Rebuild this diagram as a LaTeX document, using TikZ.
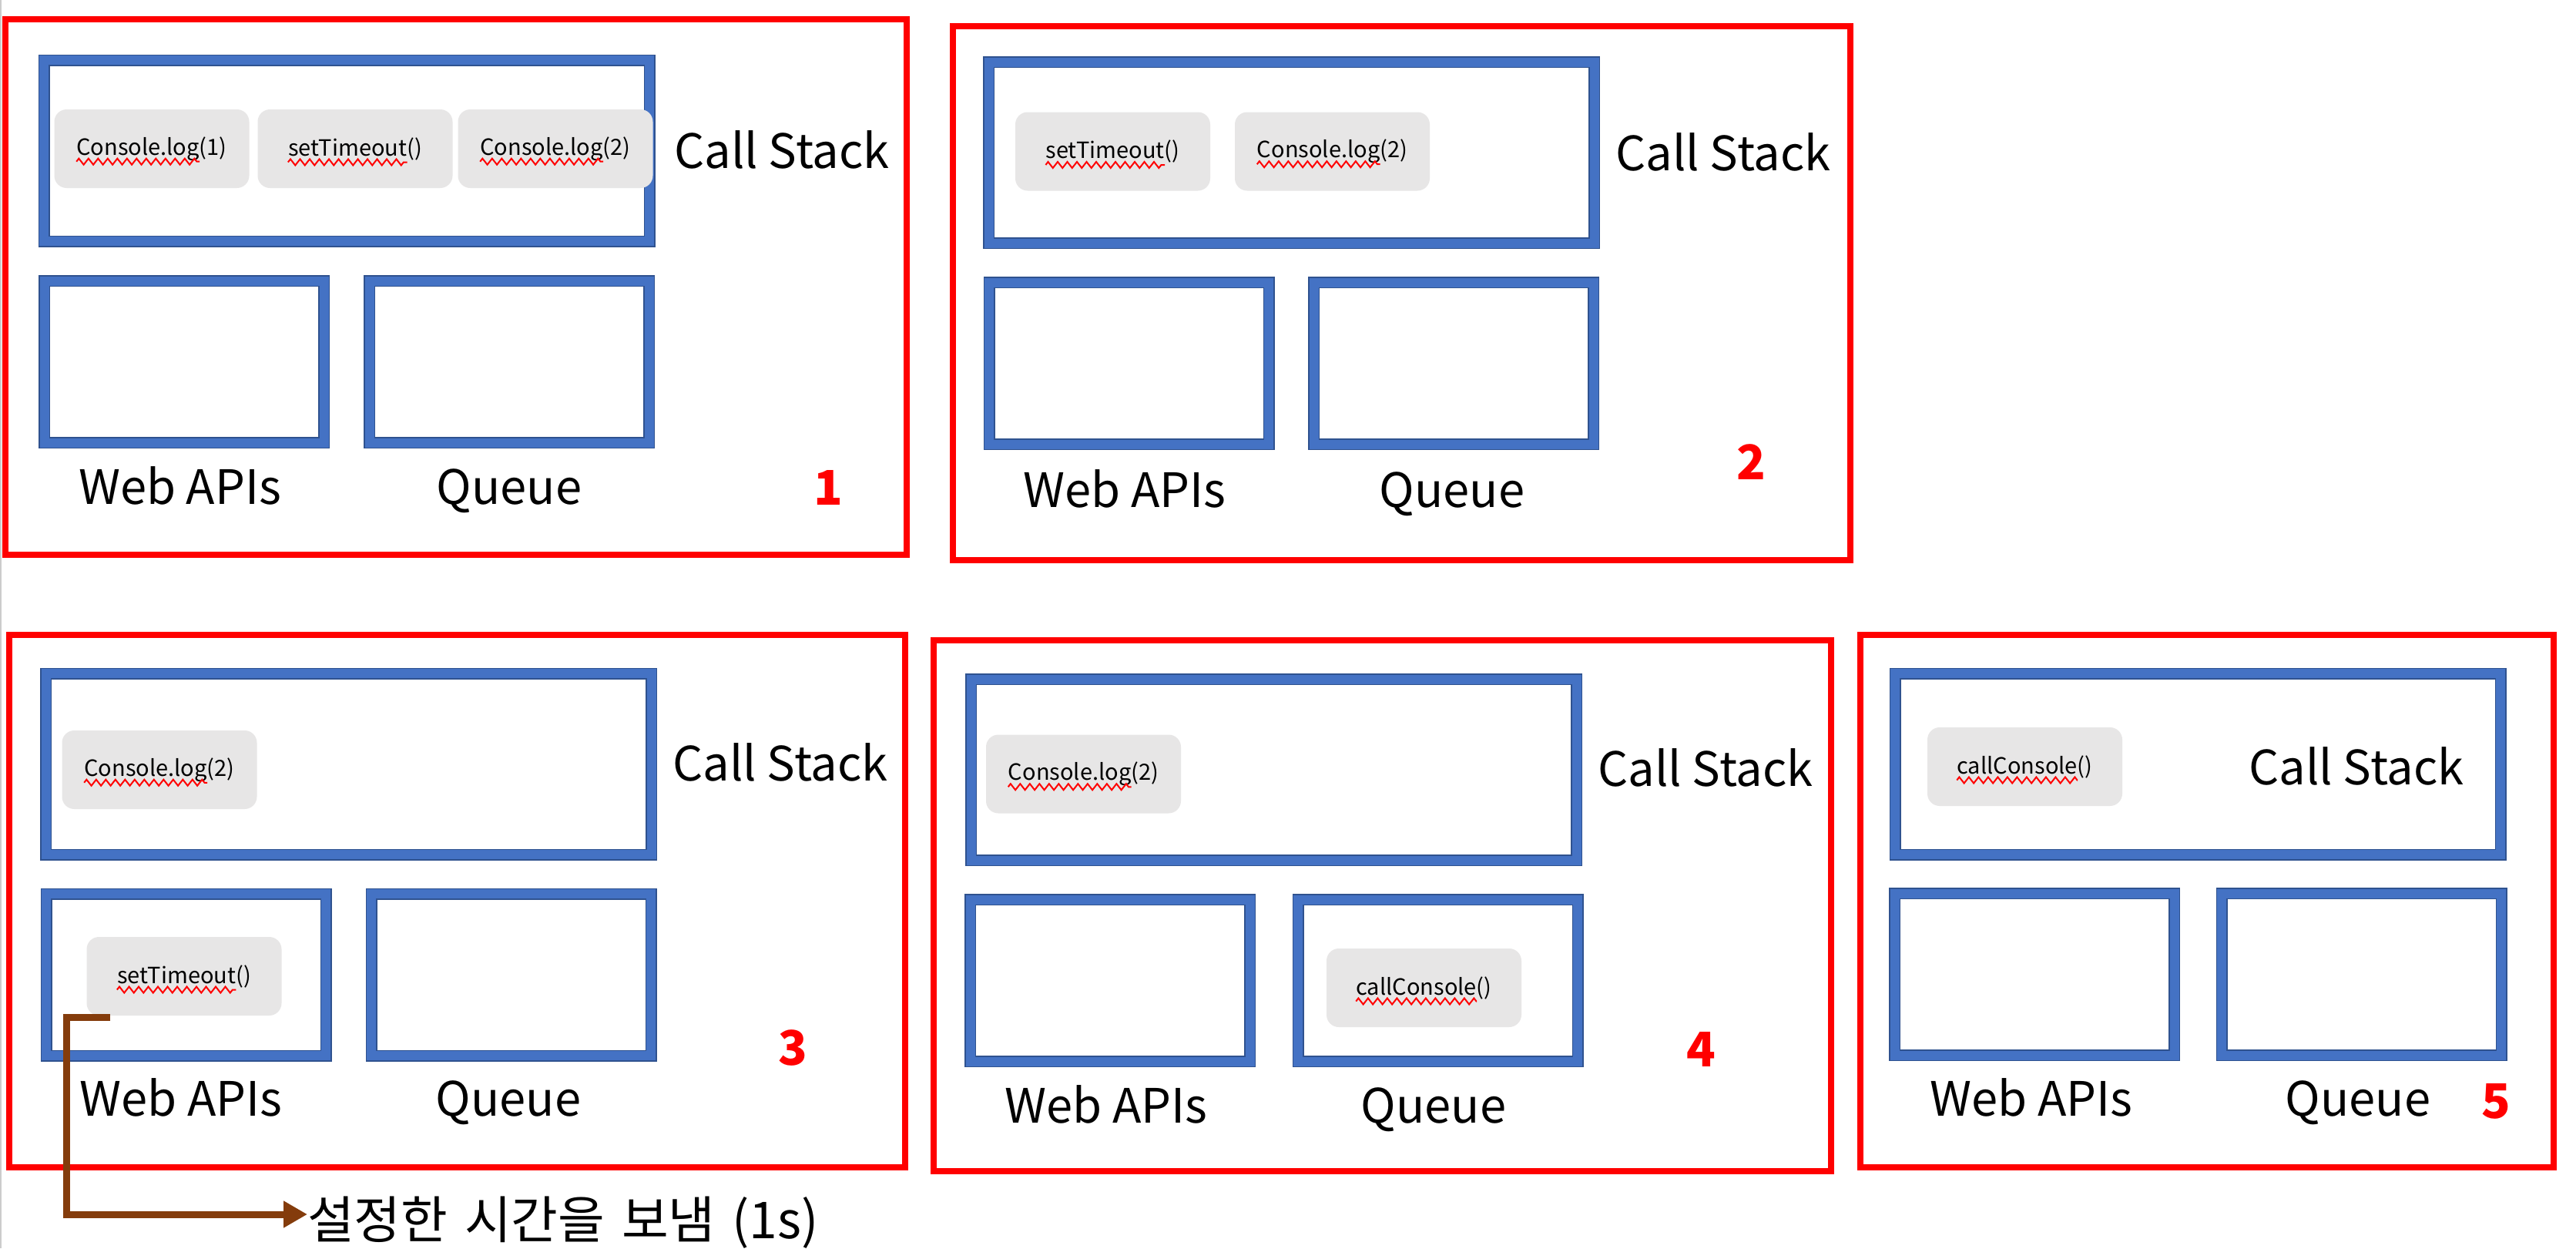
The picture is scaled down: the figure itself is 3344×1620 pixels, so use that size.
\documentclass[tikz,border=0pt]{standalone}
\usepackage{fontspec}
\setmainfont{Noto Sans CJK KR}
\usetikzlibrary{arrows.meta,decorations.pathmorphing,calc}
\definecolor{frred}{HTML}{FF0000}
\definecolor{bblue}{HTML}{4472C4}
\definecolor{bdark}{HTML}{2F528F}
\definecolor{chipgray}{HTML}{E7E6E6}
\definecolor{arrbrown}{HTML}{843C0C}
\newcommand\chipfont{\fontsize{29}{34}\selectfont}
\newcommand\lblfont{\fontsize{61.5}{70}\selectfont}
\newcommand\notefont{\fontsize{66}{74}\selectfont}
\newcommand\chipword[4]{%
  \node[chip] (#1) at (#2) {};
  \node[ctext] (#1t) at (#1.center) {#3#4};
  \node[ctext, anchor=base west] (#1w) at (#1t.base west) {\phantom{#3}};
  \draw[squig] ($(#1w.base west)+(0,8.5)$) -- ($(#1w.base east)+(0,8.5)$);
}
\begin{document}
\begin{tikzpicture}[x=1pt,y=-1pt,
  frame/.style={draw=frred, line width=8},
  csbox/.style={draw=bdark, double=bblue, double distance=12, line width=1.5, inner sep=0, minimum width=786, minimum height=235},
  smbox/.style={draw=bdark, double=bblue, double distance=12, line width=1.5, inner sep=0, minimum width=363, minimum height=210},
  chip/.style={fill=chipgray, rounded corners=16, minimum width=253, minimum height=102, inner sep=0},
  ctext/.style={inner sep=0, font=\chipfont},
  lbl/.style={inner sep=0, font=\lblfont, anchor=base},
  num/.style={inner sep=0, anchor=base, text=frred, font=\fontsize{62}{70}\selectfont\bfseries},
  squig/.style={draw=frred, line width=2, decorate, decoration={zigzag, segment length=12.5, amplitude=4}},
  brarrow/.style={draw=arrbrown, line width=9, -{Triangle[length=31pt,width=33pt]}}
]
\useasboundingbox (0,0) rectangle (3344,1620);
\fill[white] (0,0) rectangle (3344,1620);
\draw[black!20, line width=2] (1,0) -- (1,1620);

% ---------- Panel 1
\draw[frame] (7,25) rectangle (1177,720);
\node[csbox] (cs1) at (450,195.5) {};
\node[smbox] (web1) at (239,469.5) {};
\node[smbox] (q1) at (661,469.5) {};
\chipword{c1a}{197,193}{Console.log}{(1)}
\chipword{c1b}{461,193}{setTimeout}{()}
\chipword{c1c}{721,193}{Console.log}{(2)}
\node[lbl] (l1cs) at (1015,218) {Call Stack};
\node[lbl] (l1w) at (233.5,654) {Web APIs};
\node[lbl] (l1q) at (661,654) {Queue};
\node[num] (n1) at (1075,655) {1};

% ---------- Panel 2
\draw[frame] (1237,34) rectangle (2402,727);
\node[csbox] (cs2) at (1676.5,198) {};
\node[smbox] (web2) at (1465.5,471.5) {};
\node[smbox] (q2) at (1887,471.5) {};
\chipword{c2a}{1444.5,196.5}{setTimeout}{()}
\chipword{c2b}{1729.5,196.5}{Console.log}{(2)}
\node[lbl] (l2cs) at (2237,221) {Call Stack};
\node[lbl] (l2w) at (1460,658) {Web APIs};
\node[lbl] (l2q) at (1885,658) {Queue};
\node[num] (n2) at (2273,622) {2};

% ---------- Panel 3
\draw[frame] (12,824) rectangle (1175,1515);
\node[csbox] (cs3) at (452.5,991.5) {};
\node[smbox] (web3) at (241.5,1265) {};
\node[smbox] (q3) at (663.5,1265) {};
\chipword{c3a}{207,999}{Console.log}{(2)}
\chipword{c3b}{239,1267}{setTimeout}{()}
\node[lbl] (l3cs) at (1013,1013) {Call Stack};
\node[lbl] (l3w) at (235,1448) {Web APIs};
\node[lbl] (l3q) at (660,1448) {Queue};
\node[num] (n3) at (1029,1382) {3};

% ---------- Panel 4
\draw[frame] (1212,831) rectangle (2377,1520);
\node[csbox] (cs4) at (1653.5,999) {};
\node[smbox] (web4) at (1441,1272.5) {};
\node[smbox] (q4) at (1866.5,1272.5) {};
\chipword{c4a}{1406.5,1004.5}{Console.log}{(2)}
\chipword{c4b}{1848.5,1282}{callConsole}{()}
\node[lbl] (l4cs) at (2214,1020) {Call Stack};
\node[lbl] (l4w) at (1436,1457) {Web APIs};
\node[lbl] (l4q) at (1861,1457) {Queue};
\node[num] (n4) at (2208,1384) {4};

% ---------- Panel 5
\draw[frame] (2415,824) rectangle (3315,1515);
\node[csbox] (cs5) at (2853,991.5) {};
\node[smbox] (web5) at (2641,1264.5) {};
\node[smbox] (q5) at (3065.5,1264.5) {};
\chipword{c5a}{2628.5,995}{callConsole}{()}
\node[lbl] (l5cs) at (3059,1018) {Call Stack};
\node[lbl] (l5w) at (2637,1448) {Web APIs};
\node[lbl] (l5q) at (3061,1448) {Queue};
\node[num] (n5) at (3240,1451) {5};

% ---------- arrow and note
\node[inner sep=0, font=\notefont, anchor=base west] (note) at (399,1607) {설정한\hspace{7pt} 시간을\hspace{7pt} 보냄\hspace{7pt} (1s)};
\coordinate (a0) at ($(c3b.south west)+(31,2)$);
\coordinate (a1) at ($(a0)+(-57,0)$);
\draw[brarrow] (a0) -- (a1) |- ($(note.base west)+(0,-31)$);
\end{tikzpicture}
\end{document}
